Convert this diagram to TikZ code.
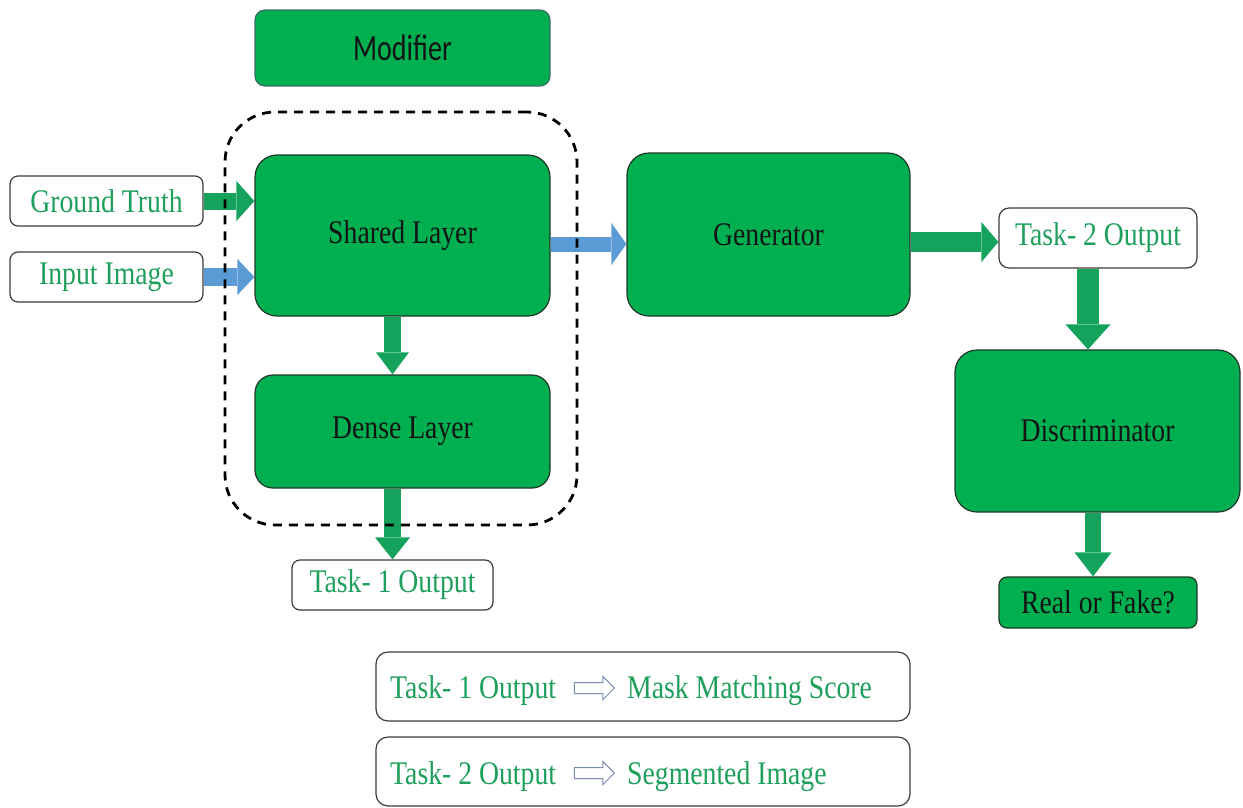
\documentclass[tikz,border=0pt]{standalone}
\usepackage{fontspec}
\setmainfont{Liberation Serif}[FakeStretch=0.84]
\newfontfamily\modfamily{Carlito}[FakeStretch=0.76]
\usetikzlibrary{arrows.meta,shapes.arrows,calc}

\definecolor{boxgreen}{RGB}{0,176,80}
\definecolor{arrgreen}{RGB}{20,162,92}
\definecolor{arrblue}{RGB}{91,155,213}
\definecolor{txtgreen}{RGB}{30,160,92}
\definecolor{boxline}{RGB}{30,55,38}
\definecolor{wline}{RGB}{60,60,60}
\definecolor{modline}{RGB}{60,110,110}
\definecolor{legline}{RGB}{120,140,175}

\newcommand\boxfont{\fontsize{33}{39}\selectfont}

\begin{document}
\begin{tikzpicture}[x=1pt,y=-1pt,
  gbox/.style={draw=boxline, line width=1.2pt, fill=boxgreen, text=black!92,
    font=\boxfont, inner sep=0pt, rounded corners=18pt},
  wbox/.style={draw=wline, line width=1.2pt, fill=white, text=txtgreen,
    font=\boxfont, inner sep=0pt, rounded corners=8pt},
  legtext/.style={text=txtgreen, font=\boxfont, inner sep=0pt},
  legarrow/.style={single arrow, draw=legline, fill=white, line width=1pt,
    inner sep=5pt, minimum height=40pt, single arrow head extend=6pt},
  flow/.style n args={4}{line width=#1, draw=#4,
    -{Triangle[length=#3, width=#2, line width=0pt]}},
  group/.style={draw=black, line width=2.8pt, dash pattern=on 9pt off 7pt,
    rounded corners=50pt, inner sep=0pt},
]
% canvas
\path[fill=white] (0,0) rectangle (1243,807);

% blocks
\node[gbox, rounded corners=10pt, draw=modline,
  font=\modfamily\fontsize{37}{42}\selectfont,
  minimum width=295pt, minimum height=76pt] (mod) at (402.5,48) {Modifier};

\node[wbox, minimum width=193pt, minimum height=50pt] (gt) at (106.5,201) {Ground Truth};
\node[wbox, minimum width=193pt, minimum height=50pt] (inimg) at (106.5,277) {Input Image};

\node[gbox, rounded corners=22pt, minimum width=295pt, minimum height=161pt] (shared) at (402.5,235.5) {Shared Layer};
\node[gbox, minimum width=295pt, minimum height=113pt] (dense) at (402.5,431.5) {Dense Layer};
\node[wbox, minimum width=201pt, minimum height=50pt] (t1) at (392.5,585) {Task- 1 Output};

\node[gbox, rounded corners=22pt, minimum width=283pt, minimum height=163pt] (gen) at (768.5,234.5) {Generator};
\node[wbox, rounded corners=10pt, minimum width=198pt, minimum height=60pt] (t2) at (1098,238) {Task- 2 Output};
\node[gbox, rounded corners=22pt, minimum width=285pt, minimum height=162pt] (disc) at (1097.5,431) {Discriminator};
\node[gbox, rounded corners=8pt, minimum width=198pt, minimum height=51pt] (rf) at (1098,602.5) {Real or Fake?};

% legend
\node[wbox, rounded corners=12pt, minimum width=534pt, minimum height=69pt] (leg1) at (643,686.5) {};
\node[wbox, rounded corners=12pt, minimum width=534pt, minimum height=69pt] (leg2) at (643,771.5) {};
\node[legtext, anchor=base west] (l1a) at (390,698) {Task- 1 Output};
\node[legtext, anchor=base west] (l1b) at (627,698) {Mask Matching Score};
\node[legtext, anchor=base west] (l2a) at (390,784) {Task- 2 Output};
\node[legtext, anchor=base west] (l2b) at (627,784) {Segmented Image};
\node[legarrow] (l1arr) at ($(l1a.east)!0.5!(l1b.west)+(0,-2)$) {};
\node[legarrow] (l2arr) at ($(l2a.east)!0.5!(l2b.west)+(0,-3)$) {};

% guide lines for the connectors
\coordinate (ysg) at (0,244);
\coordinate (ygt) at (0,242);
\coordinate (xtd) at (1088,0);
\coordinate (xdr) at (1093,0);

% connectors
\draw[flow={17pt}{40pt}{18pt}{arrgreen}] (gt.east) -- (shared.west |- gt.east);
\draw[flow={18pt}{36pt}{17pt}{arrblue}] (inimg.east) -- (shared.west |- inimg.east);
\draw[flow={15pt}{42pt}{15pt}{arrblue}] (shared.east |- ysg) -- (gen.west |- ysg);
\draw[flow={17pt}{33pt}{22pt}{arrgreen}] (shared.south -| t1.north) -- (dense.north -| t1.north);
\draw[flow={17pt}{35pt}{22pt}{arrgreen}] (dense.south -| t1.north) -- (t1.north);
\draw[flow={20pt}{40pt}{17pt}{arrgreen}] (gen.east |- ygt) -- (t2.west |- ygt);
\draw[flow={22pt}{45pt}{25pt}{arrgreen}] (t2.south -| xtd) -- (disc.north -| xtd);
\draw[flow={16pt}{37pt}{24pt}{arrgreen}] (disc.south -| xdr) -- (rf.north -| xdr);

% shared/dense group outline
\node[group, minimum width=352pt, minimum height=413pt] (grp) at (401,318.5) {};
\end{tikzpicture}
\end{document}
